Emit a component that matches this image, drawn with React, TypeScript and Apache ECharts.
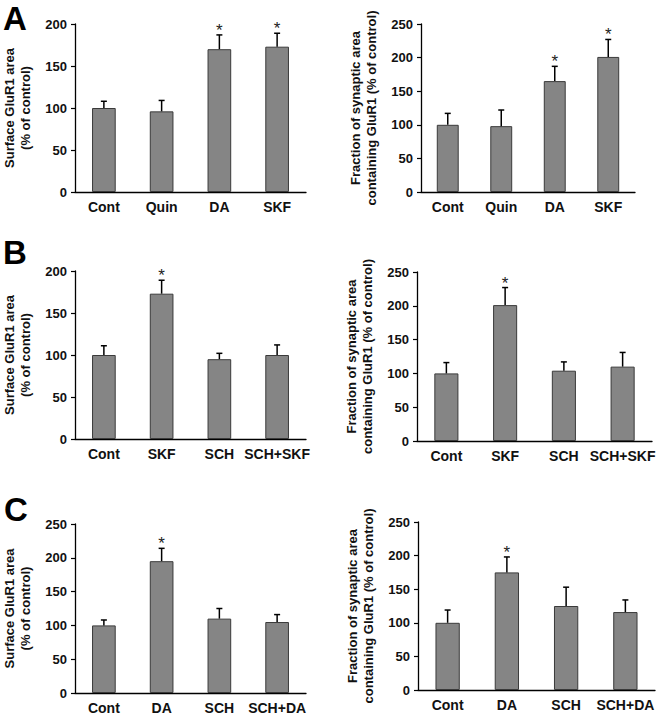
import React, { useEffect, useRef } from "react";
import * as echarts from "echarts";

const catsA = ["Cont", "Quin", "DA", "SKF"];
const catsB = ["Cont", "SKF", "SCH", "SCH+SKF"];
const catsC = ["Cont", "DA", "SCH", "SCH+DA"];

const aLeftVals = [100, 96, 170, 173];
const aLeftErr = [8, 13, 17, 16];
const aLeftSig = [0, 0, 1, 1];

const aRightVals = [100, 98, 165, 201];
const aRightErr = [17, 24, 22, 26];
const aRightSig = [0, 0, 1, 1];

const bLeftVals = [100, 173, 95, 100];
const bLeftErr = [11, 16, 7, 12];
const bLeftSig = [0, 1, 0, 0];

const bRightVals = [100, 201, 104, 110];
const bRightErr = [16, 26, 13, 21];
const bRightSig = [0, 1, 0, 0];

const cLeftVals = [100, 195, 110, 105];
const cLeftErr = [8, 19, 15, 11];
const cLeftSig = [0, 1, 0, 0];

const cRightVals = [100, 175, 125, 116];
const cRightErr = [19, 23, 28, 18];
const cRightSig = [0, 1, 0, 0];

const yMaxes = [200, 250, 200, 250, 250, 250];
const leftTitle = "Surface GluR1 area\n(% of control)";
const rightTitle = "Fraction of synaptic area\ncontaining GluR1 (% of control)";
const panelLetters = ["A", "B", "C"];

const FONT = "Arial, 'Liberation Sans', sans-serif";

export default function App() {
  const ref = useRef<HTMLDivElement>(null);
  useEffect(() => {
    if (!ref.current) return;
    const chart = echarts.init(ref.current, undefined, { renderer: "svg" });

    const panels = [
      { cats: catsA, vals: aLeftVals, err: aLeftErr, sig: aLeftSig, title: leftTitle },
      { cats: catsA, vals: aRightVals, err: aRightErr, sig: aRightSig, title: rightTitle },
      { cats: catsB, vals: bLeftVals, err: bLeftErr, sig: bLeftSig, title: leftTitle },
      { cats: catsB, vals: bRightVals, err: bRightErr, sig: bRightSig, title: rightTitle },
      { cats: catsC, vals: cLeftVals, err: cLeftErr, sig: cLeftSig, title: leftTitle },
      { cats: catsC, vals: cRightVals, err: cRightErr, sig: cRightSig, title: rightTitle },
    ];

    const gridBoxes = [
      { left: 74, top: 24, width: 232, height: 168 },
      { left: 421, top: 24, width: 214, height: 168 },
      { left: 74, top: 271, width: 232, height: 168 },
      { left: 417, top: 272, width: 235, height: 169 },
      { left: 74, top: 524, width: 232, height: 169 },
      { left: 418, top: 522, width: 237, height: 168 },
    ];

    const grid = gridBoxes.map((g) => ({ ...g, containLabel: false }));

    const xAxis = panels.map((p, i) => ({
      type: "category",
      gridIndex: i,
      data: p.cats,
      axisLine: { lineStyle: { color: "#000", width: 1.3 } },
      axisTick: { show: false },
      axisLabel: {
        color: "#111",
        fontWeight: "bold",
        fontSize: 14,
        fontFamily: FONT,
        margin: 8,
        interval: 0,
      },
    }));

    const yAxis = panels.map((p, i) => ({
      type: "value",
      gridIndex: i,
      min: 0,
      max: yMaxes[i],
      interval: 50,
      splitLine: { show: false },
      axisLine: { show: true, lineStyle: { color: "#000", width: 1.3 } },
      axisTick: { show: true, length: 4, lineStyle: { color: "#000", width: 1.2 } },
      axisLabel: {
        color: "#111",
        fontWeight: "bold",
        fontSize: 13,
        fontFamily: FONT,
        margin: 8,
      },
      name: p.title,
      nameLocation: "middle",
      nameRotate: 90,
      nameGap: 42,
      nameTextStyle: {
        color: "#111",
        fontWeight: "bold",
        fontSize: 13,
        fontFamily: FONT,
        lineHeight: 16,
      },
    }));

    const series: any[] = [];
    panels.forEach((p, i) => {
      series.push({
        type: "bar",
        xAxisIndex: i,
        yAxisIndex: i,
        data: p.vals,
        barWidth: "41%",
        itemStyle: { color: "#858585", borderColor: "#3a3a3a", borderWidth: 1 },
        z: 2,
      });
      series.push({
        type: "custom",
        xAxisIndex: i,
        yAxisIndex: i,
        z: 5,
        data: p.vals.map((v, k) => [k, v, p.err[k], p.sig[k]]),
        renderItem: (params: any, api: any) => {
          const x = api.value(0);
          const v = api.value(1);
          const e = api.value(2);
          const s = api.value(3);
          const base = api.coord([x, v]);
          const top = api.coord([x, v + e]);
          const children: any[] = [
            {
              type: "line",
              shape: { x1: base[0], y1: base[1], x2: top[0], y2: top[1] },
              style: { stroke: "#000", lineWidth: 1.5 },
            },
            {
              type: "line",
              shape: { x1: top[0] - 3, y1: top[1], x2: top[0] + 3, y2: top[1] },
              style: { stroke: "#000", lineWidth: 1.5 },
            },
          ];
          if (s) {
            children.push({
              type: "text",
              x: top[0],
              y: top[1] + 4,
              style: {
                text: "*",
                fontSize: 17,
                fontFamily: FONT,
                fill: "#222",
                align: "center",
                verticalAlign: "bottom",
              },
            });
          }
          return { type: "group", children };
        },
      });
    });

    const letterPos = [
      { x: 3, y: 2 },
      { x: 3, y: 236 },
      { x: 4, y: 493 },
    ];

    chart.setOption({
      animation: false,
      backgroundColor: "#fff",
      grid,
      xAxis,
      yAxis,
      series,
      graphic: panelLetters.map((t, i) => ({
        type: "text",
        left: letterPos[i].x,
        top: letterPos[i].y,
        style: {
          text: t,
          fontSize: 33,
          fontWeight: "bold",
          fontFamily: FONT,
          fill: "#000",
        },
      })),
    });

    return () => chart.dispose();
  }, []);

  return (
    <div
      ref={ref}
      style={{ position: "absolute", left: 0, top: 0, width: 669, height: 720 }}
    />
  );
}
